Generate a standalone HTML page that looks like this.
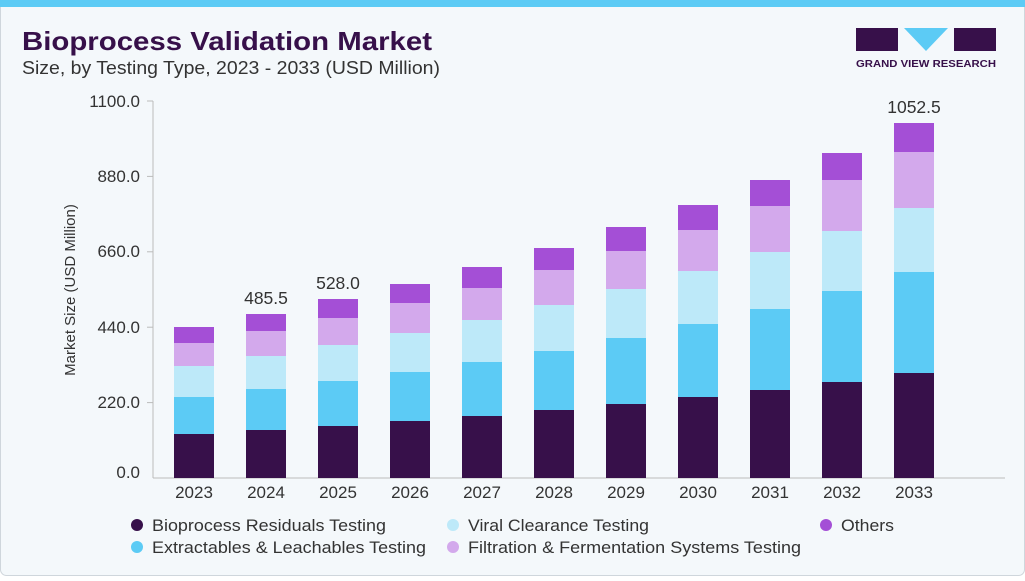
<!DOCTYPE html>
<html><head><meta charset="utf-8"><style>
body{margin:0;width:1025px;height:576px;overflow:hidden;background:#fff;font-family:"Liberation Sans",sans-serif}
</style></head><body>
<svg width="1025" height="576" xmlns="http://www.w3.org/2000/svg" font-family="Liberation Sans, sans-serif">
<rect x="0.5" y="0.5" width="1024" height="575" rx="6" fill="#f4f8fb" stroke="#cfd6dc"/>
<rect x="0" y="0" width="1025" height="7" fill="#5ccbf5"/>
<text x="22" y="50" font-size="26" font-weight="bold" fill="#37104a" textLength="410" lengthAdjust="spacingAndGlyphs">Bioprocess Validation Market</text>
<text x="22" y="74" font-size="18" fill="#333" textLength="418" lengthAdjust="spacingAndGlyphs">Size, by Testing Type, 2023 - 2033 (USD Million)</text>
<g>
<rect x="856" y="28" width="42" height="23" fill="#37104a"/>
<polygon points="904,28 948,28 926,51" fill="#5ccbf5"/>
<rect x="954" y="28" width="42" height="23" fill="#37104a"/>
<text x="856" y="67" font-size="10.5" font-weight="bold" fill="#37104a" textLength="140" lengthAdjust="spacingAndGlyphs">GRAND VIEW RESEARCH</text>
</g>
<line x1="153" y1="101" x2="153" y2="478" stroke="#bbb"/>
<line x1="153" y1="478" x2="1005" y2="478" stroke="#bbb"/>
<g stroke="#bbb">
<line x1="147" y1="101" x2="153" y2="101"/><line x1="147" y1="176.4" x2="153" y2="176.4"/><line x1="147" y1="251.8" x2="153" y2="251.8"/><line x1="147" y1="327.2" x2="153" y2="327.2"/><line x1="147" y1="402.6" x2="153" y2="402.6"/>
</g>
<g font-size="17" fill="#333" text-anchor="end">
<text x="140" y="107">1100.0</text><text x="140" y="182">880.0</text><text x="140" y="257">660.0</text><text x="140" y="333">440.0</text><text x="140" y="408">220.0</text><text x="140" y="478">0.0</text>
</g>
<text transform="translate(75,290) rotate(-90)" font-size="15" fill="#333" text-anchor="middle">Market Size (USD Million)</text>
<g id="bars"></g>
<g font-size="17" fill="#333" text-anchor="middle" id="xl"></g>
<g font-size="17.5" fill="#333" text-anchor="middle">
<text x="266" y="304">485.5</text><text x="338" y="289">528.0</text><text x="914" y="113">1052.5</text>
</g>
<g font-size="17" fill="#333">
<circle cx="137" cy="525" r="6" fill="#37104a"/><text x="152" y="531" textLength="234" lengthAdjust="spacingAndGlyphs">Bioprocess Residuals Testing</text>
<circle cx="137" cy="547" r="6" fill="#5ccbf5"/><text x="152" y="553" textLength="274" lengthAdjust="spacingAndGlyphs">Extractables &amp; Leachables Testing</text>
<circle cx="453" cy="525" r="6" fill="#bde9f9"/><text x="468" y="531" textLength="181" lengthAdjust="spacingAndGlyphs">Viral Clearance Testing</text>
<circle cx="453" cy="547" r="6" fill="#d3a9ec"/><text x="468" y="553" textLength="333" lengthAdjust="spacingAndGlyphs">Filtration &amp; Fermentation Systems Testing</text>
<circle cx="826" cy="525" r="6" fill="#a44fd6"/><text x="841" y="531" textLength="53" lengthAdjust="spacingAndGlyphs">Others</text>
</g>
</svg>
<script>
var d=[[434,397,366,343,327],[430,389,356,331,314],[426,381,345,318,299],[421,372,333,303,284],[416,362,320,288,267],[410,351,305,270,248],[404,338,289,251,227],[397,324,271,230,205],[390,309,252,206,180],[382,291,231,180,153],[373,272,208,152,123]];
var c=["#37104a","#5ccbf5","#bde9f9","#d3a9ec","#a44fd6"];
var s="",l="";
d.forEach(function(r,i){var x=174+72*i,b=478;r.forEach(function(t,j){s+='<rect x="'+x+'" y="'+t+'" width="40" height="'+(b-t)+'" fill="'+c[j]+'"/>';b=t;});
l+='<text x="'+(x+20)+'" y="498">'+(2023+i)+'</text>';});
document.getElementById("bars").innerHTML=s;document.getElementById("xl").innerHTML=l;
</script>
</body></html>
